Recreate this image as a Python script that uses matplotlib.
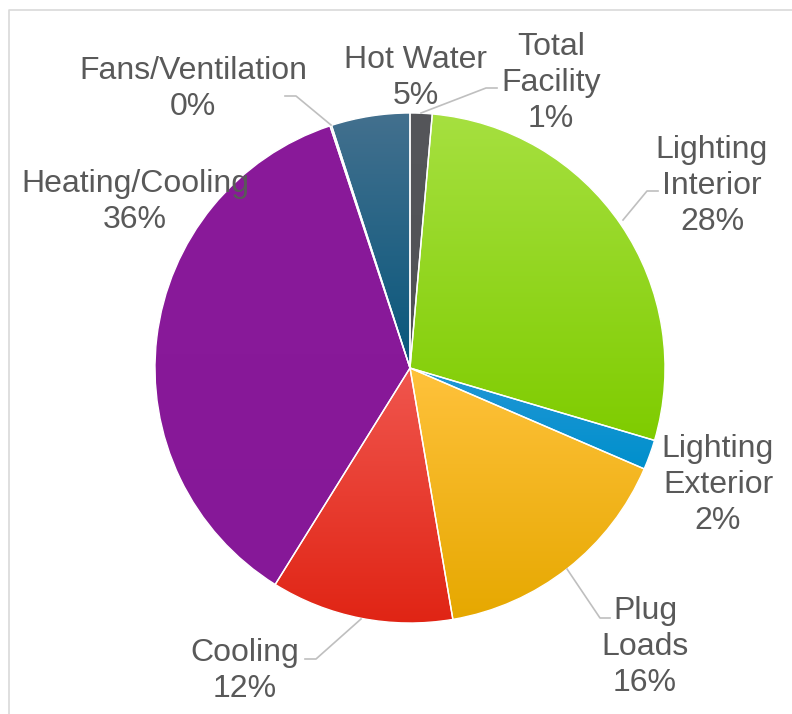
import numpy as np
import matplotlib.pyplot as plt
from matplotlib.colors import to_rgb

# slices, clockwise from 12 o'clock
names = ['Total\nFacility', 'Lighting\nInterior', 'Lighting\nExterior', 'Plug\nLoads',
         'Cooling', 'Heating/Cooling', 'Fans/Ventilation', 'Hot Water']
values = [1.4, 28.3, 1.9, 15.9, 11.6, 36.2, 0.1, 5.0]

# gradient colours per slice (top, bottom)
tops = ['#55565a', '#a6e040', '#2196d6', '#ffc23c', '#f0564e', '#8a1a9a', '#3f6b8a', '#43708e']
bottoms = ['#505155', '#7fcc00', '#0090cc', '#e6a800', '#e02414', '#861898', '#0a5578', '#08577c']

# label centres and leader lines in pixel coords (y down)
label_pos = [(551, 83), (712, 186), (718, 485), (645, 647), (245, 671), (135, 202), (193, 89), (416, 78)]
leaders = {0: [(421, 113), (486, 88), (497, 88)],
           1: [(623, 220), (647, 191), (658, 191)],
           3: [(567, 569), (600, 618), (610, 618)],
           4: [(361, 619), (316, 659), (305, 659)],
           6: [(331, 125), (296, 96), (285, 96)]}

W, H = 792, 714
fig = plt.figure(figsize=(W / 100, H / 100), dpi=100)
ax = fig.add_axes([0, 0, 1, 1])

# y axis is flipped below, so counterclock in data = clockwise on screen
wedges, _ = ax.pie(values, startangle=-90, counterclock=True, center=(410, 368), radius=255,
                   wedgeprops=dict(edgecolor='white', linewidth=1), frame=True)

for i, w in enumerate(wedges):
    v = w.get_patch_transform().transform(w.get_path().vertices)
    x0, x1 = v[:, 0].min(), v[:, 0].max()
    y0, y1 = v[:, 1].min(), v[:, 1].max()
    t = np.linspace(0, 1, 256)[:, None]
    c = (1 - t) * np.array(to_rgb(tops[i])) + t * np.array(to_rgb(bottoms[i]))
    im = ax.imshow(c[:, None, :], extent=(x0, x1, y1, y0), origin='upper', aspect='auto',
                   interpolation='bilinear', zorder=1)
    im.set_clip_path(w)
    w.set_facecolor('none')
    w.set_zorder(2)

total = sum(values)
for i, name in enumerate(names):
    pct = round(values[i] / total * 100)
    ax.text(label_pos[i][0], label_pos[i][1], f'{name}\n{pct}%', ha='center', va='center',
            fontsize=23, color='#595959', family=['Liberation Sans', 'DejaVu Sans'],
            linespacing=1.27, zorder=4)

for pts in leaders.values():
    xs, ys = zip(*pts)
    ax.plot(xs, ys, color='#bfbfbf', lw=1.2, zorder=3)

# chart area border (only left and top are visible)
ax.plot([8.5, 8.5, W + 5], [H + 5, 9.5, 9.5], color='#d9d9d9', lw=1.2, zorder=0)

ax.set_xlim(0, W)
ax.set_ylim(H, 0)
ax.set_aspect('equal')
ax.axis('off')
fig.savefig('out.png', dpi=100)
